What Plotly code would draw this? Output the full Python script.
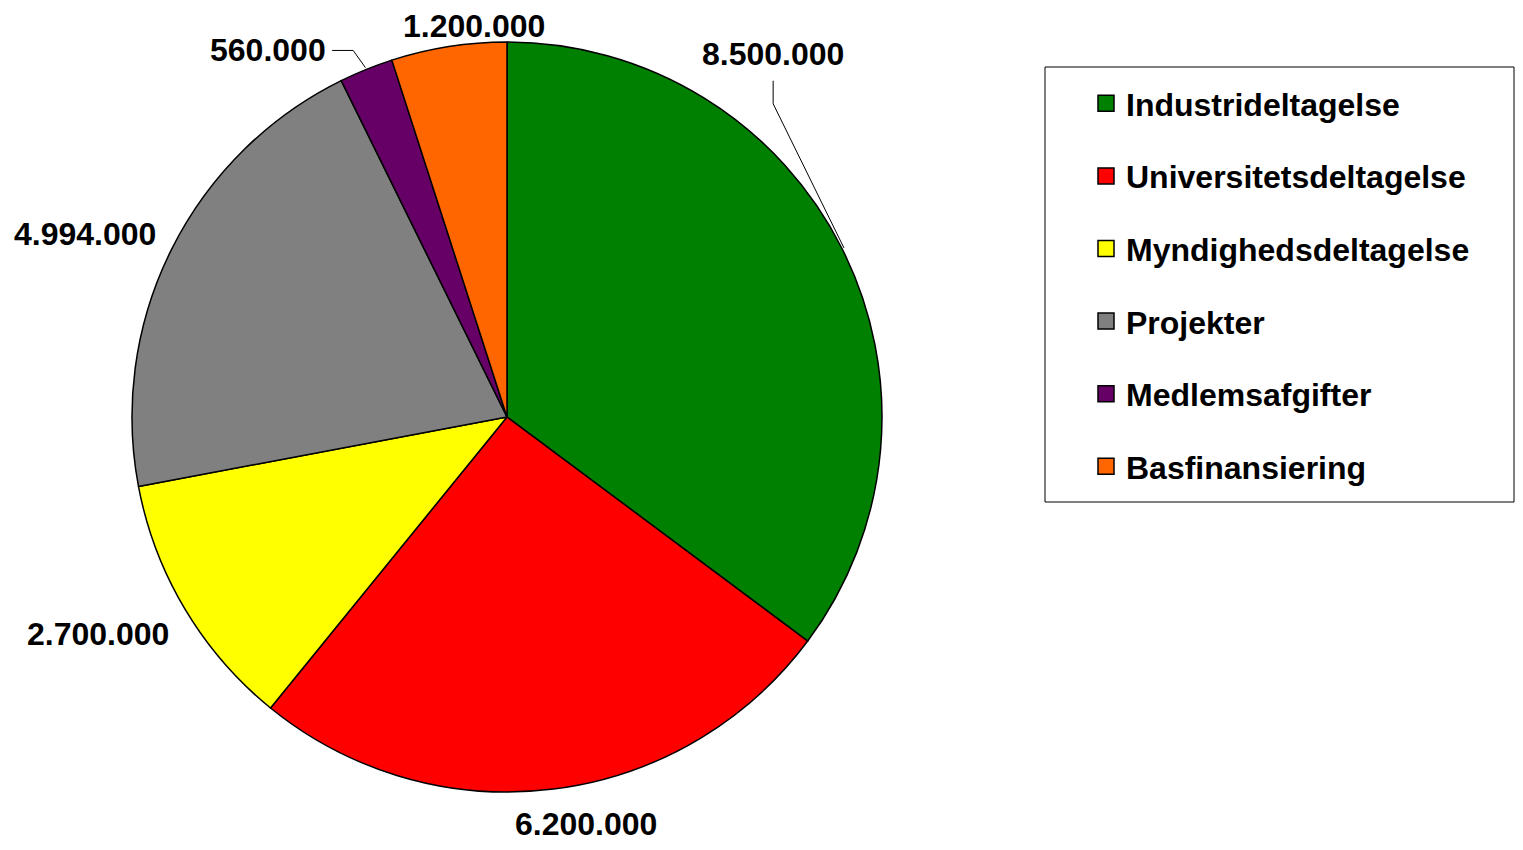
import math
import plotly.graph_objects as go

# ---- data ----
categories = ["Industrideltagelse", "Universitetsdeltagelse", "Myndighedsdeltagelse",
              "Projekter", "Medlemsafgifter", "Basfinansiering"]
values = [8500000, 6200000, 2700000, 4994000, 560000, 1200000]
value_labels = ["8.500.000", "6.200.000", "2.700.000", "4.994.000", "560.000", "1.200.000"]
colors = ["#008000", "#FF0000", "#FFFF00", "#808080", "#660066", "#FF6600"]

# ---- layout constants (screen pixels) ----
OFF = 8                      # page body margin
W, H = 1523 - 2 * OFF, 850 - 2 * OFF   # figure fits the window without scrolling
CX, CY, R = 507, 417, 375
FONT = "Liberation Sans, Arial, sans-serif"
# label offsets (px) from slice-edge midpoint to label centre
label_offsets = [(-69, -195), (33, 35), (-87, 25), (-87, -15), (-98, -19), (25, -21)]
leader = [True, False, False, False, True, False]


def px2paper(x, y):
    return (x - OFF) / W, 1 - (y - OFF) / H


fig = go.Figure()
dx0, dy0 = px2paper(CX - R, CY + R)
dx1, dy1 = px2paper(CX + R, CY - R)
fig.add_trace(go.Pie(
    labels=categories, values=values, sort=False, direction="clockwise", rotation=0,
    marker=dict(colors=colors, line=dict(color="black", width=1.5)),
    textinfo="none", showlegend=False, hoverinfo="label+value",
    domain=dict(x=[dx0, dx1], y=[dy0, dy1]),
))

# legend entries via empty traces (to control spacing)
for i, (c, col) in enumerate(zip(categories, colors)):
    fig.add_trace(go.Scatter(
        x=[None], y=[None], mode="markers", name=c, legendgroup=f"g{i}",
        marker=dict(symbol="square", size=16, color=col, line=dict(color="black", width=1.5)),
    ))

total = sum(values)
cum = 0
annotations = []
shapes = []
for i, v in enumerate(values):
    mid = (cum + v / 2) / total * 2 * math.pi
    cum += v
    ex, ey = CX + R * math.sin(mid), CY - R * math.cos(mid)
    ox, oy = label_offsets[i]
    lx, ly = ex + ox, ey + oy
    x, y = px2paper(lx, ly)
    annotations.append(dict(
        x=x, y=y, xref="paper", yref="paper", text=f"<b>{value_labels[i]}</b>",
        showarrow=False, xanchor="center", yanchor="middle",
        font=dict(family=FONT, size=32, color="black"),
    ))
    if leader[i]:
        if oy < -100:  # vertical then diagonal
            p0 = (lx, ly + 27)
            p1 = (lx, ly + 50)
        else:  # horizontal then diagonal
            p0 = (lx + 64, ly)
            p1 = (lx + 85, ly)
        p2 = (ex + 2 * math.sin(mid), ey - 2 * math.cos(mid))
        pts = [px2paper(*p) for p in (p0, p1, p2)]
        path = f"M {pts[0][0]},{pts[0][1]} L {pts[1][0]},{pts[1][1]} L {pts[2][0]},{pts[2][1]}"
        shapes.append(dict(type="path", xref="paper", yref="paper", path=path,
                           line=dict(color="black", width=1)))

# legend frame
bx0, by0 = px2paper(1045, 67)
bx1, by1 = px2paper(1514, 502)
shapes.append(dict(type="rect", xref="paper", yref="paper", x0=bx0, y0=by1, x1=bx1, y1=by0,
                   line=dict(color="black", width=1), fillcolor="rgba(0,0,0,0)"))

lx0, ly0 = px2paper(1086, 76)
fig.update_layout(
    width=W, height=H, margin=dict(l=0, r=0, t=0, b=0),
    paper_bgcolor="white", plot_bgcolor="white",
    xaxis=dict(visible=False), yaxis=dict(visible=False),
    annotations=annotations, shapes=shapes,
    showlegend=True,
    legend=dict(x=lx0, y=ly0, xanchor="left", yanchor="top",
                font=dict(family=FONT, size=32, color="black", weight="bold"),
                tracegroupgap=28, bgcolor="rgba(0,0,0,0)", borderwidth=0,
                itemclick=False, itemdoubleclick=False),
)

fig.write_html("out.html")
